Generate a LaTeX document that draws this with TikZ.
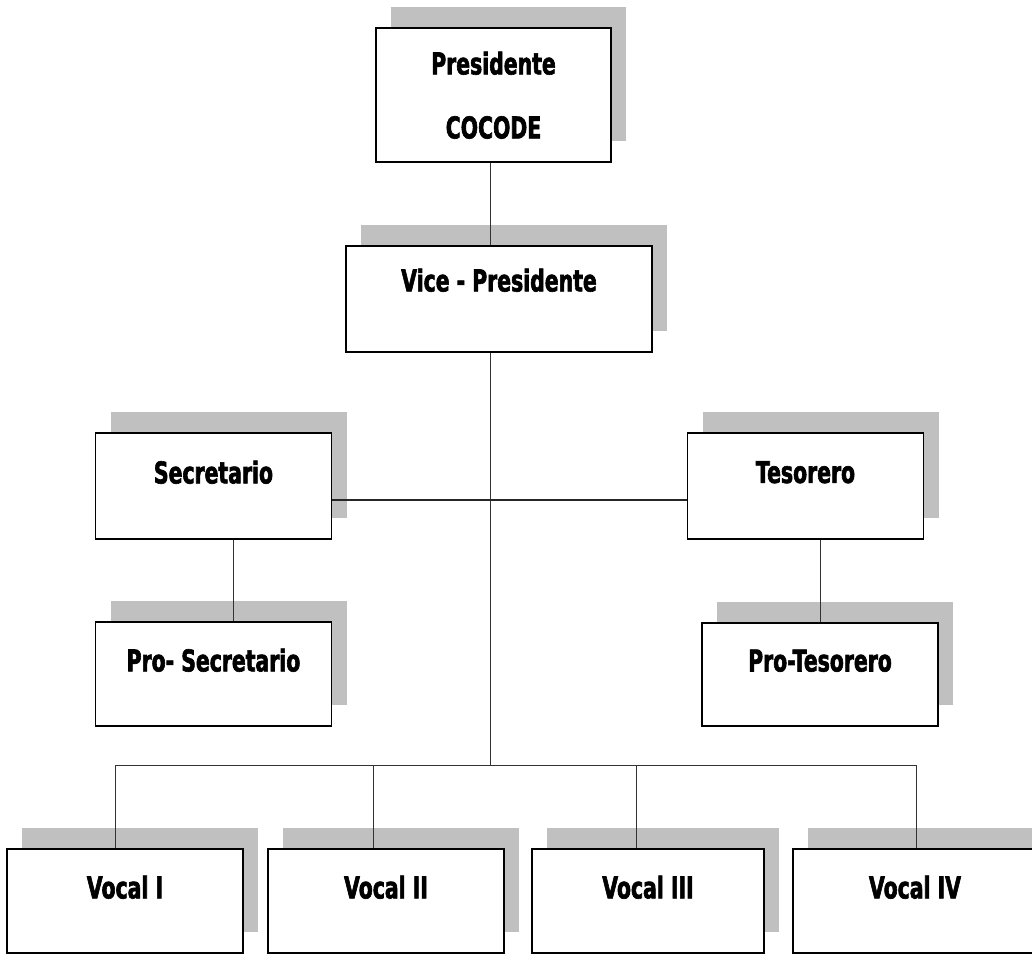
\documentclass[tikz,border=0pt]{standalone}
\usepackage{fontspec}
\newfontfamily\orgfont{DejaVu Sans}[FakeStretch=0.68, BoldFeatures={FakeBold=2}]
\usetikzlibrary{shadows}
\definecolor{shadowgray}{RGB}{192,192,192}
\tikzset{>=latex}

\tikzset{
    post/.style={draw=black, line width=1.4pt, fill=white, rectangle,
        minimum width=236pt, minimum height=106pt, inner sep=0pt,
        text depth=28pt, font=\orgfont\bfseries\fontsize{30}{36}\selectfont,
        align=center,
        drop shadow={shadow xshift=15pt, shadow yshift=21pt, fill=shadowgray, opacity=1}},
    link/.style={draw=black!80, line width=1pt},
}

\begin{document}
\begin{tikzpicture}[x=1pt, y=-1pt]

    \useasboundingbox (0,0) rectangle (1032,954);

    % Top
    \node[post, minimum width=235pt, minimum height=134pt, text depth=0pt] (pres) at (493.5,95) {Presidente\\[28pt]COCODE};
    \node[post, minimum width=306pt, text depth=38pt] (vice) at (499,299) {Vice - Presidente};

    % Middle
    \node[post] (sec) at (213.5,486) {Secretario};
    \node[post] (tes) at (805.5,486) {Tesorero};
    \node[post, minimum height=104pt] (prosec) at (213.5,674) {Pro- Secretario};
    \node[post, minimum height=103pt] (protes) at (820,674.5) {Pro-Tesorero};

    % Vocales
    \node[post, minimum height=104pt] (vocal1) at (125,901) {Vocal I};
    \node[post, minimum height=104pt] (vocal2) at (386,901) {Vocal II};
    \node[post, minimum width=232pt, minimum height=104pt] (vocal3) at (648,901) {Vocal III};
    \node[post, minimum width=244pt, minimum height=104pt] (vocal4) at (915,901) {Vocal IV};

    % Lines
    \coordinate (spine) at (490,0);
    \coordinate (bus) at (0,765);
    \coordinate (b1) at (115,765);
    \coordinate (b2) at (373,765);
    \coordinate (b3) at (636,765);
    \coordinate (b4) at (916,765);
    \coordinate (secdrop) at (233,0);

    \draw[link] (pres.south -| spine) -- (vice.north -| spine);
    \draw[link] (vice.south -| spine) -- (spine |- bus);
    \draw[draw=black!85, line width=2.6pt] ([yshift=-14pt]sec.east) -- ([yshift=-14pt]tes.west);
    \draw[link] (sec.south -| secdrop) -- (prosec.north -| secdrop);
    \draw[link] (tes.south -| protes.north) -- (protes.north);
    \draw[link] (b1) -- (b4);
    \foreach \i in {1,...,4}{
        \draw[link] (b\i) -- (b\i |- vocal\i.north);
    }

\end{tikzpicture}
\end{document}
